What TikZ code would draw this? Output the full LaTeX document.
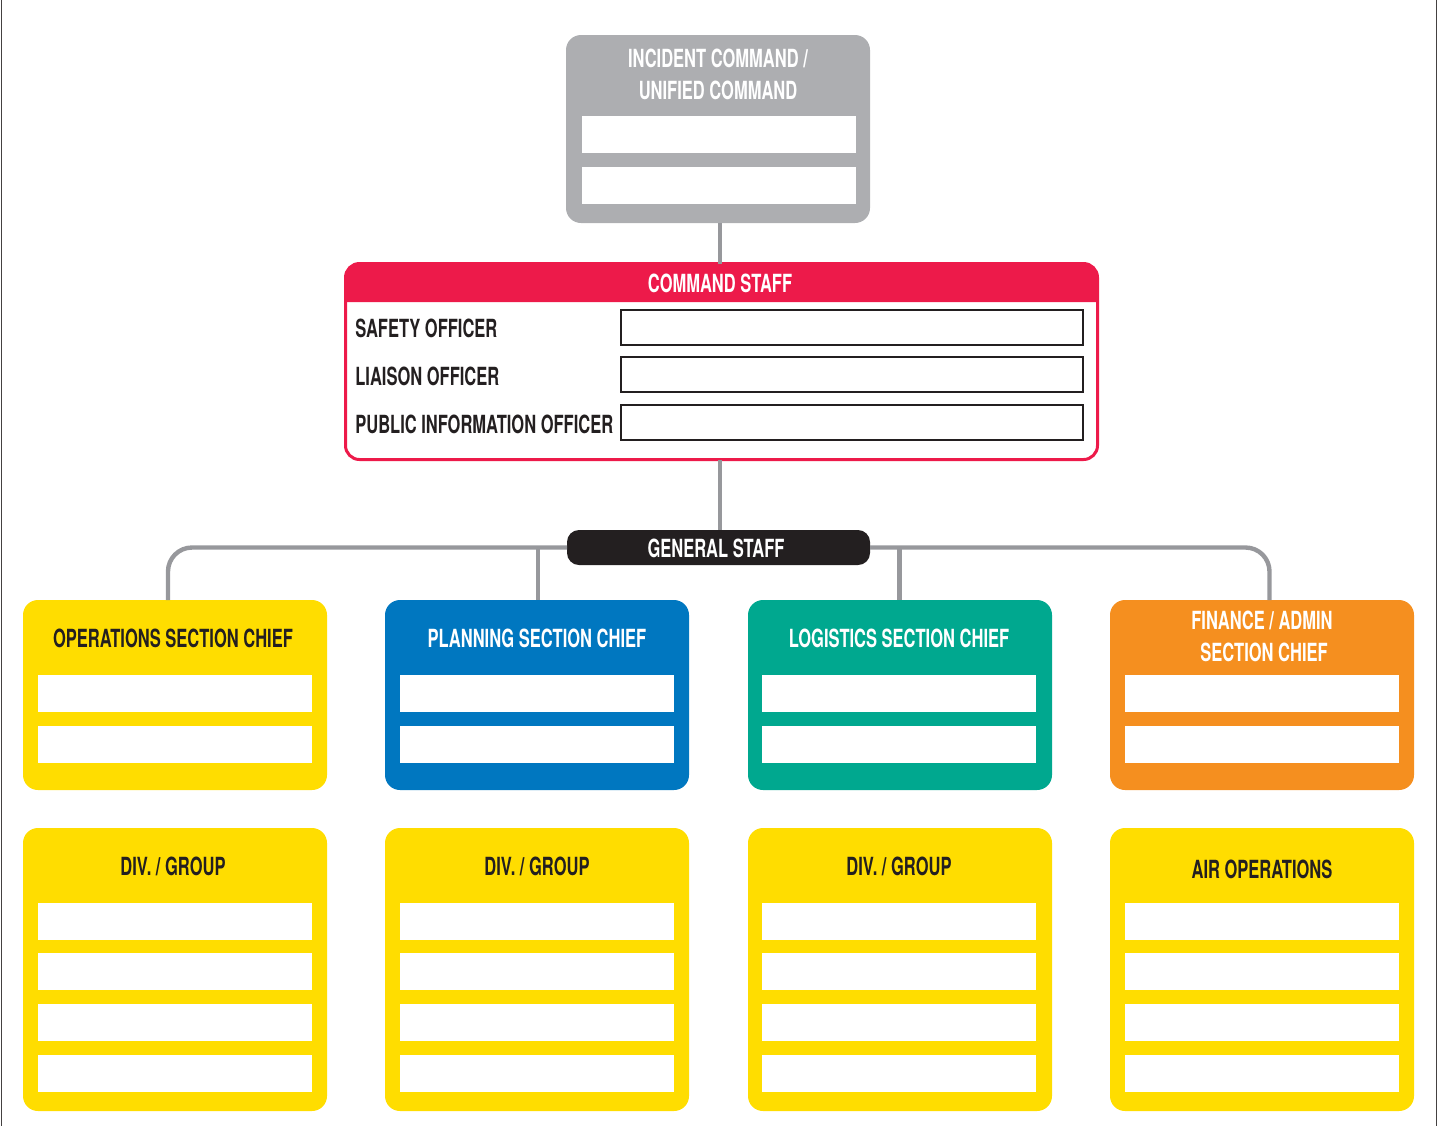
\documentclass[tikz,border=0pt]{standalone}
\usepackage{fontspec}
\setmainfont{TeX Gyre Heros}[FakeStretch=0.66]
\definecolor{icgray}{HTML}{ADAEB1}
\definecolor{csred}{HTML}{ED1A4A}
\definecolor{conngray}{HTML}{97989C}
\definecolor{gsblack}{HTML}{231F20}
\definecolor{secyellow}{HTML}{FFDD00}
\definecolor{secblue}{HTML}{0077C0}
\definecolor{secteal}{HTML}{00A88F}
\definecolor{secorange}{HTML}{F58F1F}
\definecolor{txtdark}{HTML}{231F20}
\tikzset{
  panel/.style={rectangle, rounded corners=7.5pt, inner sep=0pt, outer sep=0pt, anchor=north west, minimum width=152pt},
  bar/.style={rectangle, fill=white, inner sep=0pt, outer sep=0pt, anchor=north west, minimum width=137pt, minimum height=18.5pt},
  entry/.style={rectangle, fill=white, draw=txtdark, line width=0.6pt, inner sep=0pt, outer sep=0pt, anchor=north west, minimum width=231pt, minimum height=17.5pt},
  lbl/.style={font=\bfseries\fontsize{12.5}{14}\selectfont, inner sep=0pt, text=white},
  dlbl/.style={lbl, text=txtdark},
  conn/.style={draw=conngray, line width=2.2pt},
}
\begin{document}
\begin{tikzpicture}[x=0.5pt, y=-0.5pt]
\useasboundingbox (0,0) rectangle (1445,1126);
% page side rules
\draw[line width=0.9pt, draw=gsblack!85] (1.5,0) -- (1.5,1126);
\draw[line width=0.9pt, draw=gsblack!85] (1436.5,0) -- (1436.5,1126);

% Incident command
\node[panel, fill=icgray, minimum height=94pt] (ic) at (566,35) {};
\node[bar] (icb1) at (582,116) {};
\node[bar] (icb2) at (582,167) {};
\node[lbl] (ict1) at (718,58) {INCIDENT COMMAND /};
\node[lbl] (ict2) at (718,90) {UNIFIED COMMAND};

% Command staff
\fill[csred] (345.5,302) [rounded corners=7pt] -- (345.5,263.5) -- (1097.5,263.5) [sharp corners] -- (1097.5,302) -- cycle;
\node[panel, draw=csred, line width=1.5pt, rounded corners=7pt, minimum width=376pt, minimum height=98pt] (cs) at (345.5,263.5) {};
\node[lbl] (cst) at (720,283) {COMMAND STAFF};
\node[dlbl, anchor=west] (so) at (355,328) {SAFETY OFFICER};
\node[dlbl, anchor=west] (lo) at (355,376) {LIAISON OFFICER};
\node[dlbl, anchor=west] (pio) at (355,424) {PUBLIC INFORMATION OFFICER};
\node[entry] (soe) at (621,310) {};
\node[entry] (loe) at (621,357) {};
\node[entry] (pioe) at (621,405) {};

% General staff
\node[rectangle, rounded corners=6pt, fill=gsblack, inner sep=0pt, outer sep=0pt, anchor=north west, minimum width=151.5pt, minimum height=17.5pt] (gs) at (567,530) {};
\node[lbl] (gst) at (716,548) {GENERAL STAFF};

% Section chiefs
\node[panel, fill=secyellow, minimum height=95pt] (ops) at (23,600) {};
\node[panel, fill=secblue, minimum height=95pt] (pl) at (385,600) {};
\node[panel, fill=secteal, minimum height=95pt] (lg) at (748,600) {};
\node[panel, fill=secorange, minimum height=95pt] (fin) at (1110,600) {};
\foreach \n/\x in {ops/38, pl/400, lg/762, fin/1125}{
  \node[bar] (\n b1) at (\x,675) {};
  \node[bar] (\n b2) at (\x,726) {};
}
\node[dlbl] (opst) at (173,638) {OPERATIONS SECTION CHIEF};
\node[lbl] (plt) at (537,638) {PLANNING SECTION CHIEF};
\node[lbl] (lgt) at (899,638) {LOGISTICS SECTION CHIEF};
\node[lbl] (fint1) at (1262,620) {FINANCE / ADMIN};
\node[lbl] (fint2) at (1264,652) {SECTION CHIEF};

% Lower units
\foreach \n/\x in {dv1/23, dv2/385, dv3/748, air/1110}{
  \node[panel, fill=secyellow, minimum height=141.5pt] (\n) at (\x,828) {};
}
\foreach \n/\x in {dv1/38, dv2/400, dv3/762, air/1125}{
  \node[bar] (\n b1) at (\x,903) {};
  \node[bar] (\n b2) at (\x,953) {};
  \node[bar] (\n b3) at (\x,1004) {};
  \node[bar] (\n b4) at (\x,1055) {};
}
\node[dlbl] (dv1t) at (173,866) {DIV. / GROUP};
\node[dlbl] (dv2t) at (537,866) {DIV. / GROUP};
\node[dlbl] (dv3t) at (899,866) {DIV. / GROUP};
\node[dlbl] (airt) at (1262,869) {AIR OPERATIONS};

% Connectors
\draw[conn] ([xshift=1pt]ic.south) -- ([xshift=1pt]ic.south |- cs.north);
\draw[conn] ([xshift=-0.75pt]cs.south) -- ([xshift=-0.75pt]cs.south |- gs.north);
\draw[conn, rounded corners=12pt] ([xshift=-3.5pt]ops.north) |- (gs.west);
\draw[conn, rounded corners=12pt] ([xshift=3.75pt]fin.north) |- (gs.east);
\draw[conn] ([xshift=0.5pt]pl.north) -- ([xshift=0.5pt]pl.north |- gs.west);
\draw[conn] ([xshift=-0.25pt]lg.north) -- ([xshift=-0.25pt]lg.north |- gs.east);
\end{tikzpicture}
\end{document}
